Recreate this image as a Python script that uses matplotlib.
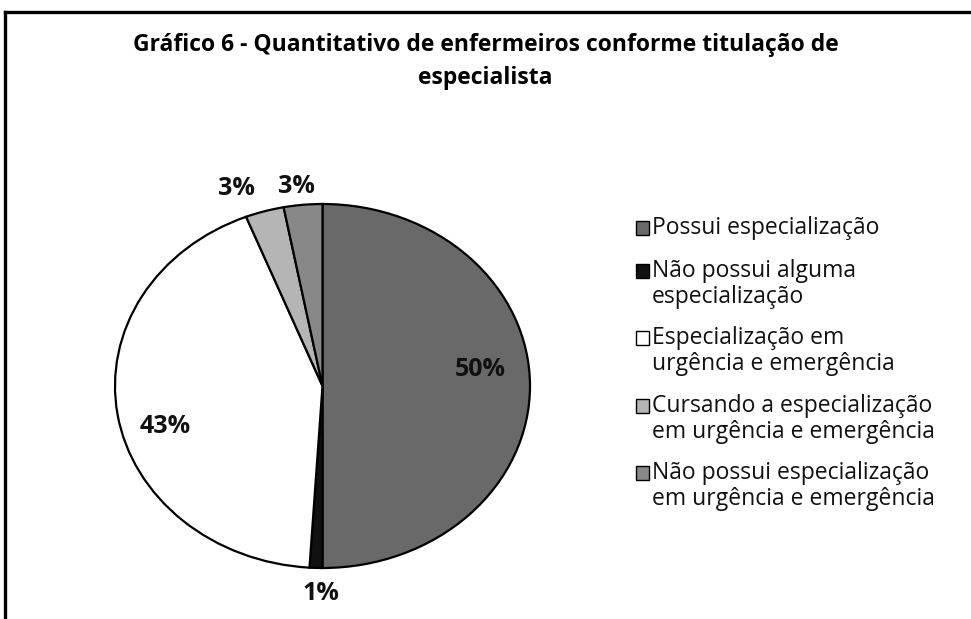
import numpy as np
import matplotlib
matplotlib.use("Agg")
import matplotlib.pyplot as plt
from matplotlib.patches import Rectangle
from matplotlib.lines import Line2D

# data
categories = ["Possui especialização",
              "Não possui alguma\nespecialização",
              "Especialização em\nurgência e emergência",
              "Cursando a especialização\nem urgência e emergência",
              "Não possui especialização\nem urgência e emergência"]
values = [50, 1, 43, 3, 3]
pct_labels = ["50%", "1%", "43%", "3%", "3%"]
colors = ["#696969", "#111111", "#ffffff", "#b5b5b5", "#888888"]

plt.rcParams["font.family"] = ["Open Sans", "DejaVu Sans"]

W, H = 971, 619
fig = plt.figure(figsize=(W / 100, H / 100), dpi=100)
fig.patch.set_facecolor("white")

def fx(px):
    return px / W

def fy(py):
    return 1 - py / H

# frame (top and left visible)
fig.add_artist(Line2D([fx(5), 1], [fy(12), fy(12)], color="black", lw=2.4))
fig.add_artist(Line2D([fx(5), fx(5)], [fy(12), 0], color="black", lw=2.4))

# title
fig.text(0.5, fy(45), "Gráfico 6 - Quantitativo de enfermeiros conforme titulação de",
         ha="center", va="center", fontsize=16.5, fontweight="bold")
fig.text(0.5, fy(78), "especialista",
         ha="center", va="center", fontsize=16.5, fontweight="bold")

# pie (slightly squashed, like the original)
ax = fig.add_axes([fx(115), fy(568), fx(530) - fx(115), fy(204) - fy(568)])
wedges, _ = ax.pie(values, colors=colors, startangle=90, counterclock=False,
                   wedgeprops=dict(edgecolor="black", linewidth=1.6))
ax.set_aspect("auto")
ax.set_xlim(-1, 1)
ax.set_ylim(-1, 1)
ax.axis("off")

# percentage labels
dist = [0.76, 1.14, 0.77, 1.13, 1.1]
nudge = [(0, 0.09), (0.03, 0), (0, -0.1), (-0.1, 0), (-0.02, 0)]
start = 90.0
total = sum(values)
for v, lab, d, (nx, ny) in zip(values, pct_labels, dist, nudge):
    mid = np.deg2rad(start - 360.0 * v / total / 2)
    start -= 360.0 * v / total
    x, y = d * np.cos(mid) + nx, d * np.sin(mid) + ny
    ax.text(x, y, lab, ha="center", va="center", fontsize=18, fontweight="bold",
            color="#111111", clip_on=False)

# legend drawn by hand
first_line_y = [228, 271, 338, 406, 473]
line_h = 26
for cat, col, y0 in zip(categories, colors, first_line_y):
    fig.add_artist(Rectangle((fx(636), fy(y0 + 6.5)), fx(13), fy(0) - fy(13),
                             facecolor=col, edgecolor="black", lw=1.0))
    for i, line in enumerate(cat.split("\n")):
        fig.text(fx(652), fy(y0 + i * line_h), line, ha="left", va="center",
                 fontsize=16.5, color="#111111")

fig.savefig("out.png", dpi=100)
